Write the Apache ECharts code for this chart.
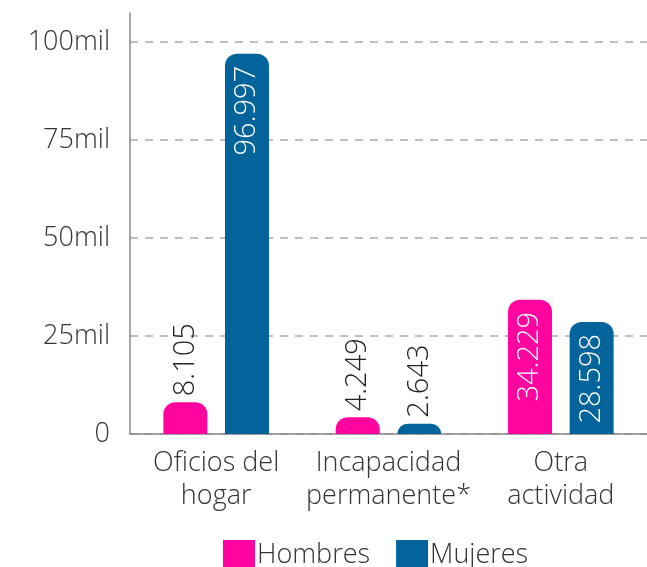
<!DOCTYPE html>
<html>
<head>
<meta charset="utf-8">
<script src="https://cdn.jsdelivr.net/npm/echarts@6/dist/echarts.min.js"></script>
<style>
  html, body { margin: 0; padding: 0; background: #fff; }
  #chart { width: 647px; height: 567px; }
</style>
</head>
<body>
<div id="chart"></div>
<script>
var categories = ['Oficios del\nhogar', 'Incapacidad\npermanente*', 'Otra\nactividad'];
var hombres = [8105, 4249, 34229];
var mujeres = [96997, 2643, 28598];
var yTicks = [0, 25000, 50000, 75000, 100000];
var yTickLabels = ['0', '25mil', '50mil', '75mil', '100mil'];

var font = '"Open Sans", "Noto Sans", sans-serif';

function fmt(v) {
  return String(v).replace(/\B(?=(\d{3})+(?!\d))/g, '.');
}

// big bars get the label inside (white), small ones above the bar
function toItems(values) {
  return values.map(function (v) {
    var inside = v > 20000;
    return {
      value: v,
      label: inside ? {
        position: 'insideTop',
        distance: 12,
        align: 'right',
        color: '#fff'
      } : {
        position: 'top',
        distance: 6,
        align: 'left',
        color: '#222'
      }
    };
  });
}

var barLabel = {
  show: true,
  rotate: 90,
  verticalAlign: 'middle',
  fontFamily: font,
  fontSize: 29,
  fontWeight: 300,
  formatter: function (p) { return fmt(p.value); }
};

var chart = echarts.init(document.getElementById('chart'));
chart.setOption({
  animation: false,
  textStyle: { fontFamily: font },
  grid: { left: 130, right: 0, top: 13, bottom: 133 },
  legend: {
    left: 218,
    top: 535,
    itemWidth: 32,
    itemHeight: 30,
    itemGap: 26,
    icon: 'rect',
    textStyle: { fontSize: 27, fontWeight: 300, color: '#333', padding: [0, 0, 0, -3] },
    data: ['Hombres', 'Mujeres']
  },
  xAxis: {
    type: 'category',
    data: categories,
    axisLine: { lineStyle: { color: '#888', width: 1.5 } },
    axisTick: { show: false },
    axisLabel: {
      interval: 0,
      hideOverlap: false,
      margin: 13,
      fontSize: 27,
      fontWeight: 300,
      lineHeight: 33,
      color: '#333'
    }
  },
  yAxis: {
    type: 'value',
    min: 0,
    max: 107400,
    interval: 25000,
    axisLine: { show: true, lineStyle: { color: '#888', width: 1.5 } },
    axisTick: { show: false },
    axisLabel: {
      margin: 20,
      fontSize: 27,
      fontWeight: 300,
      color: '#333',
      showMaxLabel: false,
      formatter: function (v) {
        var i = yTicks.indexOf(v);
        return i >= 0 ? yTickLabels[i] : '';
      }
    },
    splitLine: {
      showMaxLine: false,
      lineStyle: { color: '#aaa', type: [8, 7], width: 1.5 }
    }
  },
  series: [
    {
      name: 'Hombres',
      type: 'bar',
      data: toItems(hombres),
      barWidth: 44,
      barGap: '40%',
      itemStyle: { color: '#FF049F', borderRadius: [12, 12, 0, 0] },
      label: barLabel
    },
    {
      name: 'Mujeres',
      type: 'bar',
      data: toItems(mujeres),
      barWidth: 44,
      itemStyle: { color: '#03649B', borderRadius: [12, 12, 0, 0] },
      label: barLabel
    }
  ]
});
</script>
</body>
</html>
